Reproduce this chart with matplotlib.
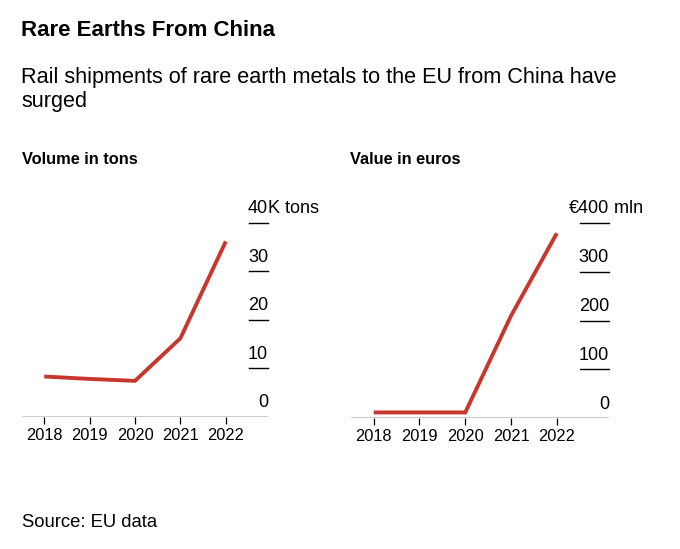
import matplotlib
matplotlib.use("Agg")
import matplotlib.pyplot as plt
import matplotlib.transforms as mtransforms

# --- data ---
years = [2018, 2019, 2020, 2021, 2022]
volume_kt = [8.3, 7.8, 7.4, 16.2, 36.2]        # thousand tons
value_mln = [12, 12, 12, 210, 379]             # million euros

volume_ticks = [0, 10, 20, 30, 40]
value_ticks = [0, 100, 200, 300, 400]

RED = "#c8372d"
plt.rcParams["font.family"] = ["Liberation Sans", "DejaVu Sans"]

W, H = 680, 549
fig = plt.figure(figsize=(W / 100, H / 100), dpi=100)


def fx(px):
    return px / W


def fy(py):
    return 1 - py / H


def panel(rect, values, ticks, xlim, top_num, top_unit, grid_start):
    ax = fig.add_axes(rect)
    ax.plot(years, values, color=RED, lw=2.8, solid_capstyle="butt",
            solid_joinstyle="miter", clip_on=False, zorder=3)
    ax.set_xlim(*xlim)
    ax.set_ylim(ticks[0], ticks[-1])
    for s in ax.spines.values():
        s.set_visible(False)
    ax.axhline(0, color="black", lw=1.0, zorder=2)
    ax.set_xticks(years)
    ax.set_xticklabels([str(y) for y in years])
    ax.tick_params(axis="x", length=5, width=0.9, color="black", pad=3,
                   labelsize=11.8)
    ax.set_yticks([])

    trans = mtransforms.blended_transform_factory(ax.transAxes, ax.transData)
    for t in ticks:
        if t > 0:
            ax.plot([grid_start, 1.0], [t, t], color="black", lw=1.0,
                    transform=trans, clip_on=False)
        label = top_num if t == ticks[-1] else str(t)
        ax.annotate(label, xy=(1.0, t), xycoords=trans,
                    xytext=(0, 7), textcoords="offset points",
                    ha="right", va="baseline", fontsize=13)
    ax.annotate(top_unit, xy=(1.0, ticks[-1]), xycoords=trans,
                xytext=(0, 7), textcoords="offset points",
                ha="left", va="baseline", fontsize=13)
    return ax


# left panel: baseline 22..268 px, zero at y=416.7, top tick at y=223
panel([fx(22), fy(416.7), fx(268) - fx(22), fy(223) - fy(416.7)],
      volume_kt, volume_ticks, (2017.51, 2022.93), "40", "K tons",
      (249 - 22) / 246)

# right panel: baseline 351..609 px, zero at y=418.3, top tick at y=223
panel([fx(351), fy(418.3), fx(609) - fx(351), fy(223) - fy(418.3)],
      value_mln, value_ticks, (2017.504, 2023.14), "€400", " mln",
      (580 - 351) / 258)

# texts
fig.text(fx(21), fy(36), "Rare Earths From China", fontsize=16,
         fontweight="bold", va="baseline", ha="left")
fig.text(fx(21), fy(82.7), "Rail shipments of rare earth metals to the EU from China have",
         fontsize=15.6, va="baseline", ha="left")
fig.text(fx(21), fy(106.5), "surged", fontsize=15.6, va="baseline", ha="left")
fig.text(fx(21.5), fy(164), "Volume in tons", fontsize=11.8,
         fontweight="bold", va="baseline", ha="left")
fig.text(fx(350.5), fy(164), "Value in euros", fontsize=11.8,
         fontweight="bold", va="baseline", ha="left")
fig.text(fx(21.5), fy(527), "Source: EU data", fontsize=13.3,
         va="baseline", ha="left")

fig.savefig("out.png", dpi=100, facecolor="white")
